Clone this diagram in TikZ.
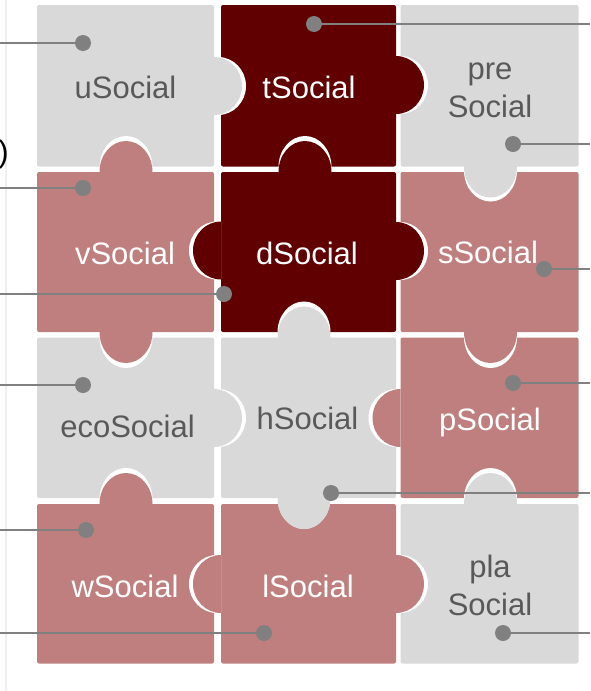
\documentclass[tikz,border=0pt]{standalone}
\usepackage{fontspec}
\setmainfont{Liberation Sans}
\definecolor{pgray}{HTML}{D9D9D9}
\definecolor{pdark}{HTML}{600000}
\definecolor{ppink}{HTML}{C07F7F}
\definecolor{tgray}{HTML}{595959}
\definecolor{lgray}{HTML}{808080}
\definecolor{edgegray}{HTML}{EFEFEF}
\newcommand{\hknob}[5]{%
  \begin{scope}
    \clip ({#1},{#2-35}) rectangle ({#1+#3*40},{#2+35});
    \fill[white] ({#1+#3*#5},{#2}) ellipse [x radius=28pt, y radius=29pt];
    \fill[#4] ({#1},{#2}) ellipse [x radius=28pt, y radius=29pt];
  \end{scope}}
\newcommand{\vknob}[5]{%
  \begin{scope}
    \clip ({#1-32},{#2}) rectangle ({#1+32},{#2+#3*42});
    \fill[white] ({#1},{#2+#3*#5}) ellipse [x radius=26.5pt, y radius=31pt];
    \fill[#4] ({#1},{#2}) ellipse [x radius=26.5pt, y radius=31pt];
  \end{scope}}
\tikzset{
  piece/.style={rectangle, rounded corners=2pt, inner sep=0pt, outer sep=0pt, anchor=north west, draw=none},
  lab/.style={font=\fontsize{31}{38}\selectfont, inner sep=0pt, anchor=base, align=center},
  darklab/.style={lab, text=tgray},
  lightlab/.style={lab, text=white},
  dot/.style={circle, fill=lgray, minimum size=16pt, inner sep=0pt},
  lead/.style={draw=lgray, line width=2.7pt}
}
\begin{document}
\begin{tikzpicture}[x=1pt,y=-1pt]
\useasboundingbox (0,0) rectangle (590,691);
\fill[white] (0,0) rectangle (590,691);
\draw[edgegray, line width=2.3pt] (6.2,0) -- (6.2,691);
% pieces
\node[piece, fill=pgray, minimum width=177pt, minimum height=161.5pt] (u) at (37,5) {};
\node[piece, fill=pdark, minimum width=175pt, minimum height=161.5pt] (t) at (221,5) {};
\node[piece, fill=pgray, minimum width=178pt, minimum height=161.5pt] (pre) at (400.5,5) {};
\node[piece, fill=ppink, minimum width=177pt, minimum height=160pt] (v) at (37,172) {};
\node[piece, fill=pdark, minimum width=175pt, minimum height=160pt] (d) at (221,172) {};
\node[piece, fill=ppink, minimum width=178pt, minimum height=160pt] (s) at (400.5,172) {};
\node[piece, fill=pgray, minimum width=177pt, minimum height=160.5pt] (eco) at (37,337.5) {};
\node[piece, fill=pgray, minimum width=175pt, minimum height=160.5pt] (h) at (221,337.5) {};
\node[piece, fill=ppink, minimum width=178pt, minimum height=160.5pt] (p) at (400.5,337.5) {};
\node[piece, fill=ppink, minimum width=177pt, minimum height=159.5pt] (w) at (37,504) {};
\node[piece, fill=ppink, minimum width=175pt, minimum height=159.5pt] (l) at (221,504) {};
\node[piece, fill=pgray, minimum width=178pt, minimum height=159.5pt] (pla) at (400.5,504) {};
% horizontal knobs
\hknob{214}{86}{1}{pgray}{4}
\hknob{396}{85}{1}{pdark}{4}
\hknob{221}{250.5}{-1}{pdark}{4}
\hknob{396}{251}{1}{pdark}{4}
\hknob{214}{418}{1}{pgray}{4}
\hknob{400.5}{418}{-1}{ppink}{4}
\hknob{221}{584}{-1}{ppink}{4}
\hknob{396}{584}{1}{ppink}{4}
% vertical knobs
\vknob{126}{172}{-1}{ppink}{5}
\vknob{305}{172}{-1}{pdark}{5}
\vknob{490.5}{166.5}{1}{pgray}{4}
\vknob{126}{332}{1}{ppink}{5}
\vknob{304}{337.5}{-1}{pgray}{5}
\vknob{490.5}{332}{1}{ppink}{5}
\vknob{126}{504}{-1}{ppink}{5}
\vknob{304}{498}{1}{pgray}{0}
\vknob{490.5}{504}{-1}{pgray}{5}
% texts
\node[darklab] (tu) at (125.5,98) {uSocial};
\node[lightlab] (tt) at (309,98) {tSocial};
\node[darklab] (tpre) at (490,117) {pre\\Social};
\node[lightlab] (tv) at (125,264) {vSocial};
\node[lightlab] (td) at (307,264) {dSocial};
\node[lightlab] (ts) at (488,263) {sSocial};
\node[darklab] (teco) at (127.5,437) {ecoSocial};
\node[darklab] (th) at (307.5,429) {hSocial};
\node[lightlab] (tp) at (490,430) {pSocial};
\node[lightlab] (tw) at (125,597) {wSocial};
\node[lightlab] (tl) at (308,597) {lSocial};
\node[darklab] (tpla) at (490,615) {pla\\Social};
\node[font=\fontsize{31}{38}\selectfont, inner sep=0pt, anchor=base east] (paren) at (9,162) {)};
% dots
\node[dot] (du) at (83,43) {};
\node[dot] (dv) at (83,188) {};
\node[dot] (dd) at (224,294) {};
\node[dot] (deco) at (83,385) {};
\node[dot] (dw) at (86,530) {};
\node[dot] (dl) at (264,633) {};
\node[dot] (dt) at (314,24) {};
\node[dot] (dpre) at (513,144) {};
\node[dot] (ds) at (544,269) {};
\node[dot] (dp) at (513,383) {};
\node[dot] (dh) at (331,493) {};
\node[dot] (dpla) at (503,633) {};
% free ends
\coordinate (eu) at (0,43);
\coordinate (ev) at (0,188);
\coordinate (ed) at (0,294);
\coordinate (eeco) at (0,385);
\coordinate (ew) at (0,530);
\coordinate (el) at (0,633);
\coordinate (et) at (590,24);
\coordinate (epre) at (590,144);
\coordinate (es) at (590,269);
\coordinate (ep) at (590,383);
\coordinate (eh) at (590,493);
\coordinate (epla) at (590,633);
\draw[lead] (du) -- (eu);
\draw[lead] (dv) -- (ev);
\draw[lead] (dd) -- (ed);
\draw[lead] (deco) -- (eeco);
\draw[lead] (dw) -- (ew);
\draw[lead] (dl) -- (el);
\draw[lead] (dt) -- (et);
\draw[lead] (dpre) -- (epre);
\draw[lead] (ds) -- (es);
\draw[lead] (dp) -- (ep);
\draw[lead] (dh) -- (eh);
\draw[lead] (dpla) -- (epla);
\end{tikzpicture}
\end{document}
